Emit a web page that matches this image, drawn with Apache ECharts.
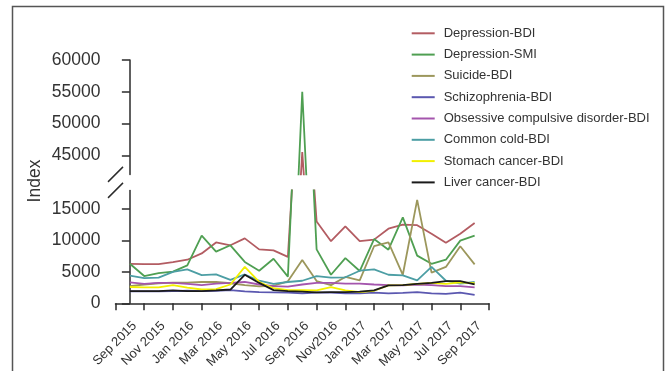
<!DOCTYPE html>
<html>
<head>
<meta charset="utf-8">
<script src="https://cdn.jsdelivr.net/npm/echarts@6/dist/echarts.min.js"></script>
<style>
  html, body { margin: 0; padding: 0; background: #fff; }
  #chart { width: 667px; height: 371px; }
</style>
</head>
<body>
<div id="chart"></div>
<script>
// Monthly search index, Sep 2015 – Sep 2017
const months = [
  'Sep 2015', 'Oct 2015', 'Nov 2015', 'Dec 2015', 'Jan 2016', 'Feb 2016', 'Mar 2016',
  'Apr 2016', 'May 2016', 'Jun 2016', 'Jul 2016', 'Aug 2016', 'Sep 2016', 'Oct 2016',
  'Nov 2016', 'Dec 2016', 'Jan 2017', 'Feb 2017', 'Mar 2017', 'Apr 2017', 'May 2017',
  'Jun 2017', 'Jul 2017', 'Aug 2017', 'Sep 2017'
];
// every second month is labelled on the x axis
const tickLabels = [
  'Sep 2015', 'Nov 2015', 'Jan 2016', 'Mar 2016', 'May 2016', 'Jul 2016', 'Sep 2016',
  'Nov2016', 'Jan 2017', 'Mar 2017', 'May 2017', 'Jul 2017', 'Sep 2017'
];

const depressionBDI = [6300, 6250, 6250, 6550, 6950, 7950, 9700, 9250, 10350, 8600, 8450, 7400, 45500, 13050, 9900, 12250, 9900, 10150, 11900, 12550, 12450, 11100, 9650, 11100, 12800];
const depressionSMI = [6300, 4350, 4800, 5050, 6050, 10800, 8250, 9250, 6600, 5200, 7100, 4250, 55000, 8600, 4550, 7200, 5150, 10250, 8550, 13700, 7600, 6300, 6950, 10000, 10800];
const suicideBDI = [2750, 3000, 3200, 3300, 3300, 3400, 3400, 3200, 2900, 2700, 2800, 3500, 6900, 3550, 2900, 4200, 3650, 9100, 9700, 4550, 16500, 4900, 5800, 9100, 6200];
const schizophreniaBDI = [1900, 1900, 1900, 1950, 2000, 1950, 2000, 2100, 1900, 1800, 1750, 1700, 1600, 1700, 1700, 1600, 1600, 1700, 1600, 1650, 1800, 1600, 1500, 1700, 1350];
const ocdBDI = [3350, 3100, 3250, 3250, 3100, 2900, 3150, 3250, 3400, 3000, 2750, 2650, 3000, 3250, 3250, 3150, 3150, 3000, 2900, 2850, 3000, 2900, 2750, 2750, 2550];
const commonColdBDI = [4400, 4000, 4100, 5000, 5400, 4500, 4600, 3750, 4600, 3600, 3100, 3400, 3600, 4350, 4100, 4150, 5200, 5400, 4550, 4450, 3650, 5800, 3600, 3150, 3400];
const stomachCancerBDI = [2600, 2550, 2550, 2900, 2500, 2200, 2250, 3000, 5800, 3400, 2400, 2100, 2100, 2050, 2600, 2050, 1800, 2000, 2850, 2900, 3100, 3250, 3100, 3350, 3200];
const liverCancerBDI = [1950, 1950, 1950, 2050, 1950, 1950, 2050, 2200, 4550, 3250, 2100, 1950, 1850, 1750, 1800, 1800, 1850, 2050, 2850, 2900, 3100, 3250, 3550, 3550, 3000];

const seriesNames = [
  'Depression-BDI', 'Depression-SMI', 'Suicide-BDI', 'Schizophrenia-BDI',
  'Obsessive compulsive disorder-BDI', 'Common cold-BDI', 'Stomach cancer-BDI', 'Liver cancer-BDI'
];
const seriesValues = [
  depressionBDI, depressionSMI, suicideBDI, schizophreniaBDI,
  ocdBDI, commonColdBDI, stomachCancerBDI, liverCancerBDI
];
const seriesColors = ['#b35c62', '#4f9f52', '#9c975c', '#5b58b0', '#a455ad', '#4c9ea4', '#f2f000', '#1a1a1a'];

const upperTicks = [45000, 50000, 55000, 60000];
const lowerTicks = [0, 5000, 10000, 15000];

// layout of the broken axis
const FONT = 'Liberation Sans, Arial, sans-serif';
const AXIS_LEFT = 115.5;
const PLOT_W = 373.5;
const UPPER_TOP = 60, UPPER_H = 114.4;
const LOWER_TOP = 190.4, LOWER_H = 117.6;
const AXIS_COLOR = '#2b2b2b';

const chart = echarts.init(document.getElementById('chart'), null, { renderer: 'canvas' });

const xTickValues = [];
for (let v = -1; v <= months.length; v += 2) xTickValues.push(v);
const xLabelValues = tickLabels.map((_, k) => k * 2);

const series = [];
seriesNames.forEach((name, s) => {
  const data = seriesValues[s].map((v, i) => [i, v]);
  [0, 1].forEach(g => {
    series.push({
      name: name,
      type: 'line',
      xAxisIndex: g,
      yAxisIndex: g,
      data: data,
      showSymbol: false,
      symbol: 'none',
      clip: true,
      color: seriesColors[s],
      lineStyle: { color: seriesColors[s], width: 1.8 },
      emphasis: { disabled: true },
      animation: false
    });
  });
});

const plainNumber = v => String(Math.round(v));

const option = {
  backgroundColor: '#ffffff',
  animation: false,
  textStyle: { fontFamily: FONT },
  legend: {
    data: seriesNames,
    orient: 'vertical',
    left: 411.7,
    top: 26.8,
    padding: 0,
    itemWidth: 23,
    itemHeight: 2,
    itemGap: 8.3,
    icon: 'rect',
    textStyle: { fontSize: 13, color: '#333', fontFamily: FONT, padding: [0, 0, 0, 4] },
    selectedMode: false
  },
  grid: [
    { left: AXIS_LEFT, top: UPPER_TOP, width: PLOT_W, height: UPPER_H, containLabel: false },
    { left: AXIS_LEFT, top: LOWER_TOP, width: PLOT_W, height: LOWER_H, containLabel: false }
  ],
  xAxis: [
    {
      gridIndex: 0, type: 'value', min: -1, max: months.length, show: false
    },
    {
      gridIndex: 1, type: 'value', min: -1, max: months.length,
      axisLine: { show: true, lineStyle: { color: AXIS_COLOR, width: 1.5 } },
      axisTick: { show: true, length: 7, lineStyle: { color: AXIS_COLOR, width: 1.5 }, customValues: xTickValues },
      axisLabel: {
        customValues: xLabelValues,
        rotate: 45,
        margin: 16,
        verticalAlign: 'top',
        fontSize: 13,
        color: '#333',
        fontFamily: FONT,
        formatter: v => tickLabels[Math.round(v / 2)] || ''
      },
      splitLine: { show: false }
    }
  ],
  yAxis: [
    {
      gridIndex: 0, type: 'value', min: 42000, max: 60000,
      axisLine: { show: true, lineStyle: { color: AXIS_COLOR, width: 1.5 } },
      axisTick: { show: true, length: 8, lineStyle: { color: AXIS_COLOR, width: 1.5 }, customValues: upperTicks },
      axisLabel: { customValues: upperTicks, formatter: plainNumber, fontSize: 17.5, color: '#333', margin: 15, fontFamily: FONT },
      splitLine: { show: false }
    },
    {
      gridIndex: 1, type: 'value', min: 0, max: 18000,
      axisLine: { show: true, lineStyle: { color: AXIS_COLOR, width: 1.5 } },
      axisTick: { show: true, length: 8, lineStyle: { color: AXIS_COLOR, width: 1.5 }, customValues: lowerTicks },
      axisLabel: { customValues: lowerTicks, formatter: plainNumber, fontSize: 17.5, color: '#333', margin: 15, fontFamily: FONT },
      splitLine: { show: false }
    }
  ],
  series: series
};

chart.setOption(option);

// frame, axis title and the break marks on the y axis
const upperEnd = chart.convertToPixel({ xAxisIndex: 0, yAxisIndex: 0 }, [-1, 42000]);
const lowerStart = chart.convertToPixel({ xAxisIndex: 1, yAxisIndex: 1 }, [-1, 18000]);
const slash = (cx, cy) => ({
  type: 'line',
  shape: { x1: cx - 7.5, y1: cy + 7.5, x2: cx + 7.5, y2: cy - 7.5 },
  style: { stroke: AXIS_COLOR, lineWidth: 1.5 },
  silent: true
});

chart.setOption({
  graphic: [
    {
      type: 'rect',
      shape: { x: 12.5, y: 6.5, width: 651, height: 380 },
      style: { fill: 'none', stroke: '#555', lineWidth: 1.5 },
      silent: true
    },
    {
      type: 'text',
      x: 35, y: 181,
      rotation: Math.PI / 2,
      style: {
        text: 'Index', fontSize: 17.5, fontFamily: FONT, fill: '#333',
        textAlign: 'center', textVerticalAlign: 'middle', align: 'center', verticalAlign: 'middle'
      },
      silent: true
    },
    slash(upperEnd[0], upperEnd[1]),
    slash(lowerStart[0], lowerStart[1])
  ]
});
</script>
</body>
</html>
